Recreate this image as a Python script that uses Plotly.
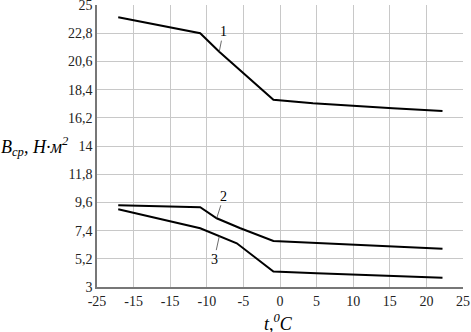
import plotly.graph_objects as go

# Curve data (t, °C  ->  B_cp)
t1 = [-22.1, -10.9, -8.3, -4.5, -0.9, 4.5, 10.0, 15.4, 22.2]
b1 = [24.04, 22.8, 21.36, 19.45, 17.6, 17.33, 17.12, 16.94, 16.73]

t2 = [-22.1, -10.9, -8.65, -5.5, -0.9, 5.0, 10.0, 15.0, 22.2]
b2 = [9.38, 9.22, 8.36, 7.6, 6.59, 6.45, 6.32, 6.18, 5.99]

t3 = [-22.1, -10.9, -5.9, -0.9, 5.0, 15.0, 22.2]
b3 = [9.06, 7.58, 6.41, 4.2, 4.07, 3.86, 3.73]

x_tickvals = [-25, -20, -15, -10, -5, 0, 5, 10, 15, 20, 25]
x_ticktext = ["-25", "-15", "-15", "-10", "-5", "0", "5", "10", "15", "20", "25"]
y_tickvals = [3, 5.2, 7.4, 9.6, 11.8, 14, 16.2, 18.4, 20.6, 22.8, 25]
y_ticktext = ["3", "5,2", "7,4", "9,6", "11,8", "14", "16,2", "18,4", "20,6", "22,8", "25"]

# curve labels: (text, t, B, ax, ay)
labels = [("1", -8.3, 21.36, 4, -20), ("2", -8.65, 8.36, 7, -22), ("3", -8.29, 6.97, -5, 23)]

font_family = "Liberation Serif, Times New Roman, serif"

fig = go.Figure()
for t, b in [(t1, b1), (t2, b2), (t3, b3)]:
    fig.add_trace(go.Scatter(x=t, y=b, mode="lines",
                             line=dict(color="black", width=2), showlegend=False))

for txt, x, y, ax, ay in labels:
    fig.add_annotation(x=x, y=y, text=txt, showarrow=True, arrowhead=0,
                       arrowwidth=0.8, arrowcolor="#444", ax=ax, ay=ay,
                       font=dict(family=font_family, size=14, color="black"))

fig.add_annotation(xref="paper", yref="paper", x=-0.17, y=0.497,
                   text="<i>B<sub>ср</sub>, Н·м<sup>2</sup></i>", showarrow=False,
                   xanchor="center", yanchor="middle",
                   font=dict(family=font_family, size=18, color="black"))

fig.add_annotation(xref="paper", yref="paper", x=0.495, y=-0.125,
                   text="<i>t,<sup>0</sup>C</i>", showarrow=False,
                   xanchor="center", yanchor="middle",
                   font=dict(family=font_family, size=18, color="black"))

fig.update_layout(
    template="none",
    width=471, height=332,
    margin=dict(l=97, r=8, t=5, b=45),
    paper_bgcolor="white", plot_bgcolor="white",
    font=dict(family=font_family, size=14, color="#222"),
    xaxis=dict(range=[-25, 25], tickvals=x_tickvals, ticktext=x_ticktext,
               showgrid=True, gridcolor="#c8c8c8", gridwidth=1,
               showline=True, linecolor="#777", linewidth=1.5,
               zeroline=False, ticks="", automargin=False,
               ticklabeloverflow="allow", tickfont=dict(family=font_family, size=14)),
    yaxis=dict(range=[3, 25], tickvals=y_tickvals, ticktext=y_ticktext,
               showgrid=True, gridcolor="#c8c8c8", gridwidth=1,
               showline=True, linecolor="#777", linewidth=1.5,
               zeroline=False, ticks="", automargin=False,
               ticklabeloverflow="allow", tickfont=dict(family=font_family, size=14)),
)

fig.write_html("out.html", config={"displayModeBar": False},
               post_script="document.body.style.margin='0';")
